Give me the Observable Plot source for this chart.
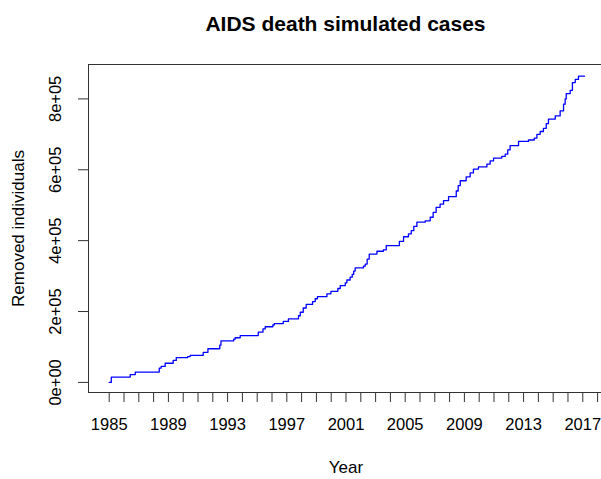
<!DOCTYPE html>
<html><head><meta charset="utf-8">
<script src="https://cdn.jsdelivr.net/npm/d3@7"></script>
<script src="https://cdn.jsdelivr.net/npm/@observablehq/plot@0.6"></script>
<style>
html,body{margin:0;padding:0;background:#fff;overflow:hidden;}
#wrap{position:relative;width:601px;height:479px;overflow:hidden;font-family:"Liberation Sans",Arial,sans-serif;}
#title{position:absolute;top:13px;left:88px;width:515px;text-align:center;font-weight:bold;font-size:21px;line-height:21px;color:#000;}
#chart{position:absolute;top:45px;left:0;width:601px;height:434px;overflow:hidden;}
</style></head><body>
<div id="wrap"><div id="title">AIDS death simulated cases</div><div id="chart"></div></div>
<script>
const years = [1985.0, 1985.14, 1986.42, 1986.76, 1988.38, 1988.51, 1988.78, 1989.32, 1989.53, 1990.30,
  1990.47, 1991.35, 1991.67, 1992.47, 1992.55, 1993.41, 1993.51, 1993.85, 1995.07, 1995.39,
  1995.54, 1996.06, 1996.15, 1996.76, 1997.11, 1997.79, 1997.91, 1998.11, 1998.31, 1998.74,
  1998.92, 1999.07, 1999.71, 1999.98, 2000.45, 2000.61, 2000.95, 2001.06, 2001.28, 2001.42,
  2001.52, 2001.62, 2002.18, 2002.30, 2002.43, 2002.57, 2003.09, 2003.53, 2003.72, 2004.61,
  2004.89, 2005.22, 2005.41, 2005.58, 2005.79, 2006.35, 2006.69, 2006.89, 2007.09, 2007.36,
  2007.59, 2007.93, 2008.45, 2008.58, 2008.72, 2009.12, 2009.39, 2009.61, 2009.95, 2010.52,
  2010.74, 2010.97, 2011.53, 2011.76, 2011.93, 2012.09, 2012.66, 2013.33, 2013.72, 2013.90,
  2014.12, 2014.34, 2014.53, 2014.68, 2015.14, 2015.47, 2015.70, 2015.81, 2015.88, 2016.15,
  2016.30, 2016.49, 2016.71, 2017.12];
const removed = [0, 15000, 22000, 29000, 40000, 45000, 54000, 62000, 70000, 73000,
  76000, 85000, 95000, 105000, 117000, 122000, 126000, 132000, 142000, 151000,
  157000, 162000, 166000, 172000, 179000, 188000, 198000, 210000, 220000, 228000,
  236000, 242000, 250000, 257000, 265000, 273000, 281000, 289000, 297000, 305000,
  314000, 323000, 328000, 334000, 348000, 362000, 370000, 374000, 386000, 398000,
  411000, 419000, 428000, 440000, 452000, 456000, 466000, 480000, 494000, 503000,
  513000, 524000, 540000, 555000, 569000, 580000, 591000, 602000, 608000, 616000,
  625000, 633000, 638000, 644000, 656000, 668000, 680000, 684000, 689000, 700000,
  708000, 717000, 730000, 743000, 752000, 766000, 785000, 800000, 815000, 824000,
  846000, 855000, 864000, 864000];
const yTicks = [0, 200000, 400000, 600000, 800000];
const yTickLabels = ["0e+00", "2e+05", "4e+05", "6e+05", "8e+05"];
const xTicks = [1985, 1986, 1987, 1988, 1989, 1990, 1991, 1992, 1993, 1994, 1995, 1996, 1997, 1998, 1999,
  2000, 2001, 2002, 2003, 2004, 2005, 2006, 2007, 2008, 2009, 2010, 2011, 2012, 2013, 2014, 2015, 2016, 2017, 2018];
const xTickLabels = ["1985", "1989", "1993", "1997", "2001", "2005", "2009", "2013", "2017"];
const xTitle = "Year";
const yTitle = "Removed individuals";

const data = years.map((t, i) => ({t, v: removed[i]}));

const plot = Plot.plot({
  width: 601, height: 434,
  marginLeft: 88, marginRight: -2, marginTop: 19, marginBottom: 87,
  style: {fontFamily: "'Liberation Sans', Arial, sans-serif", fontSize: "16.5px", color: "#000", background: "white", overflow: "hidden"},
  x: {domain: [1983.6, 2018.4]},
  y: {domain: [-28500, 897000]},
  marks: [
    Plot.frame({stroke: "#333"}),
    Plot.axisX({ticks: xTicks, tickFormat: d => xTickLabels.includes(String(d)) ? String(d) : "",
      tickSize: 10, tickPadding: 16, stroke: "#333", label: null}),
    Plot.axisY({ticks: yTicks, tickFormat: d => yTickLabels[yTicks.indexOf(d)],
      tickSize: 10, tickPadding: 18, tickRotate: -90, stroke: "#333", label: null}),
    Plot.line(data, {x: "t", y: "v", curve: "step-after", stroke: "blue", strokeWidth: 1.3}),
    Plot.text([xTitle], {frameAnchor: "bottom", dy: 80, fontSize: 17}),
    Plot.text([yTitle], {frameAnchor: "left", textAnchor: "middle", dx: -70, rotate: -90, fontSize: 17})
  ]
});
document.getElementById("chart").appendChild(plot);
</script>
</body></html>
